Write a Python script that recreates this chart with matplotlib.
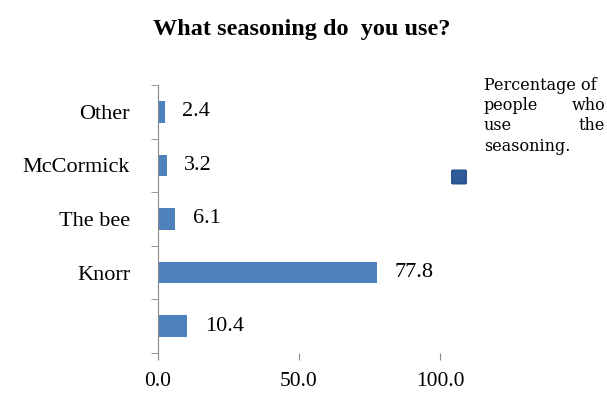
import matplotlib
matplotlib.use("Agg")
import matplotlib.pyplot as plt
from matplotlib.patches import FancyBboxPatch

plt.rcParams['font.family'] = ['Liberation Serif', 'DejaVu Serif']

# data, bottom to top
categories = ["", "Knorr", "The bee", "McCormick", "Other"]
values = [10.4, 77.8, 6.1, 3.2, 2.4]
xticks = [0, 50, 100]
bar_color = "#4F81BD"

fig = plt.figure(figsize=(6.07, 3.96), dpi=100)
ax = fig.add_axes([0.260, 0.109, 0.465, 0.676])

ypos = list(range(len(categories)))
ax.barh(ypos, values, height=0.4, color=bar_color)
for y, v in zip(ypos, values):
    ax.text(v + 6.2, y, "%.1f" % v, va="center", ha="left", fontsize=16)

ax.set_xlim(0, 100)
ax.set_ylim(-0.5, len(categories) - 0.5)
ax.set_xticks(xticks)
ax.set_xticklabels(["%.1f" % t for t in xticks], fontsize=15.5)
ax.set_yticks(ypos)
ax.set_yticklabels(categories, fontsize=16)
ax.tick_params(axis="y", length=0, pad=20)
# category boundary ticks
ax.set_yticks([i - 0.5 for i in range(len(categories) + 1)], minor=True)
ax.tick_params(axis="y", which="minor", length=5, color="#888888")
ax.tick_params(axis="x", length=5, color="#888888", pad=9)

for s in ["top", "right", "bottom"]:
    ax.spines[s].set_visible(False)
ax.spines["left"].set_color("#888888")

fig.text(0.497, 0.925, "What seasoning do  you use?", ha="center", va="center",
         fontsize=17.5, fontweight="bold")

# legend, justified like the original
lx0, lx1 = 484 / 607, 605 / 607
lines = [["Percentage of"], ["people", "who"], ["use", "the"], ["seasoning."]]
ys = [86, 106, 126, 146]
for words, yp in zip(lines, ys):
    yf = 1 - yp / 396
    fig.text(lx0, yf, words[0], ha="left", va="center", fontsize=11.5,
             family="DejaVu Serif")
    if len(words) > 1:
        fig.text(lx1, yf, words[1], ha="right", va="center", fontsize=11.5,
                 family="DejaVu Serif")

fig.patches.append(FancyBboxPatch((453 / 607, 1 - 183 / 396), 12 / 607, 12 / 396,
                                  boxstyle="round,pad=0.002", transform=fig.transFigure,
                                  facecolor="#2F5C99", edgecolor="#1F4E8C"))

fig.savefig("out.png", dpi=100)
